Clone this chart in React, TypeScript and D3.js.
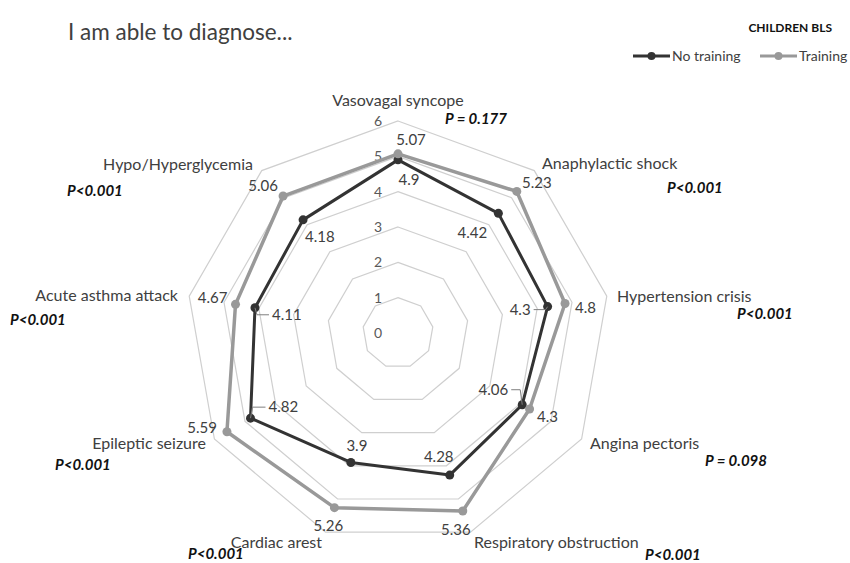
import React from "react";
import * as d3 from "d3";

const categories = [
  "Vasovagal syncope",
  "Anaphylactic shock",
  "Hypertension crisis",
  "Angina pectoris",
  "Respiratory obstruction",
  "Cardiac arest",
  "Epileptic seizure",
  "Acute asthma attack",
  "Hypo/Hyperglycemia",
];
const pValues = ["P = 0.177", "P<0.001", "P<0.001", "P = 0.098", "P<0.001", "P<0.001", "P<0.001", "P<0.001", "P<0.001"];
const noTraining = [4.9, 4.42, 4.3, 4.06, 4.28, 3.9, 4.82, 4.11, 4.18];
const training = [5.07, 5.23, 4.8, 4.3, 5.36, 5.26, 5.59, 4.67, 5.06];
const ticks = [0, 1, 2, 3, 4, 5, 6];
const seriesNames = ["No training", "Training"];

// layout (not data)
const W = 850, H = 563;
const cx = 398, cy = 333, R = 212;
const colors = ["#333333", "#999999"];
const font = "Lato, 'Open Sans', sans-serif";

// category label placement: [x, y, anchor], p-value placement [x, y, anchor]
const catPos: [number, number, string][] = [
  [398, 106, "middle"], [542, 169, "start"], [617, 302, "start"], [590, 449, "start"],
  [474, 548, "start"], [322, 548, "end"], [206, 449, "end"], [178, 301, "end"], [253, 170, "end"],
];
const pPos: [number, number, string][] = [
  [445, 124, "start"], [667, 193, "start"], [737, 319, "start"], [705, 466, "start"],
  [645, 560, "start"], [188, 559, "start"], [55, 470, "start"], [10, 325, "start"], [67, 196, "start"],
];
// value label offsets relative to the marker (to text centre): [dx, dy, anchor, leader]
const ntOff: [number, number, string, boolean][] = [
  [11, 20, "middle", false], [-26, 20, "middle", false], [-17, 3, "end", true], [-14, -15, "end", true],
  [-11, -18, "middle", false], [6, -16, "middle", false], [18, -11, "start", true], [17, 7, "start", true], [2, 17, "start", false],
];
const tOff: [number, number, string, boolean][] = [
  [13, -14, "middle", false], [20, -8, "middle", false], [10, 4, "start", false], [18, 8, "middle", false],
  [-7, 19, "middle", false], [-6, 18, "middle", false], [-10, -4, "end", false], [-8, -6, "end", false], [-20, -10, "middle", false],
];

export default function App() {
  const n = categories.length;
  const r = d3.scaleLinear().domain([0, 6]).range([0, R]);
  const angle = (i: number) => (i * 2 * Math.PI) / n;
  const pt = (i: number, v: number): [number, number] => [
    cx + r(v) * Math.sin(angle(i)),
    cy - r(v) * Math.cos(angle(i)),
  ];
  const ringLine = d3.line<[number, number]>().curve(d3.curveLinearClosed);
  const series = [noTraining, training];
  const offs = [ntOff, tOff];

  return (
    <svg width={W} height={H} style={{ position: "absolute", left: 0, top: 0, background: "#fff" }} fontFamily={font}>
      <text x={68} y={40} fontSize={22.5} fill="#404040">I am able to diagnose...</text>
      <text x={832} y={32} fontSize={12} fontWeight="bold" textAnchor="end" fill="#111">CHILDREN BLS</text>
      {/* legend */}
      {[0, 1].map((s) => {
        const x0 = s === 0 ? 633 : 760;
        return (
          <g key={s}>
            <line x1={x0} x2={x0 + 37} y1={56} y2={56} stroke={colors[s]} strokeWidth={3} />
            <circle cx={x0 + 18.5} cy={56} r={4} fill={colors[s]} />
            <text x={x0 + 39} y={61} fontSize={14} fill="#404040">{seriesNames[s]}</text>
          </g>
        );
      })}
      {/* grid rings */}
      {ticks.slice(1).map((t) => (
        <path key={t} d={ringLine(d3.range(n).map((i) => pt(i, t))) || ""} fill="none" stroke="#cfcfcf" strokeWidth={1.2} />
      ))}
      {ticks.map((t) => (
        <text key={"t" + t} x={382} y={cy - r(t) + 5} fontSize={14} textAnchor="end" fill="#595959">{t}</text>
      ))}
      {/* series */}
      {series.map((vals, s) => (
        <g key={"s" + s}>
          <path d={ringLine(vals.map((v, i) => pt(i, v))) || ""} fill="none" stroke={colors[s]} strokeWidth={s === 0 ? 3 : 3.5} strokeLinejoin="round" />
          {vals.map((v, i) => {
            const [x, y] = pt(i, v);
            return <circle key={i} cx={x} cy={y} r={4.5} fill={colors[s]} />;
          })}
        </g>
      ))}
      {/* value labels */}
      {series.map((vals, s) =>
        vals.map((v, i) => {
          const [x, y] = pt(i, v);
          const [dx, dy, anchor, leader] = offs[s][i];
          const tx = x + dx, ty = y + dy;
          const isEnd = anchor === "end";
          return (
            <g key={`l${s}-${i}`}>
              {leader && (
                <polyline
                  points={`${isEnd ? tx + 3 : tx - 3},${ty} ${isEnd ? x - 2 : x + 2},${ty} ${x},${y}`}
                  fill="none" stroke="#7f7f7f" strokeWidth={1}
                />
              )}
              <text x={tx} y={ty + 5} fontSize={15} textAnchor={anchor} fill="#404040">{v}</text>
            </g>
          );
        })
      )}
      {/* category labels */}
      {categories.map((c, i) => (
        <text key={"c" + i} x={catPos[i][0]} y={catPos[i][1]} fontSize={16} textAnchor={catPos[i][2]} fill="#404040">{c}</text>
      ))}
      {pValues.map((p, i) => (
        <text key={"p" + i} x={pPos[i][0]} y={pPos[i][1]} fontSize={15} fontWeight="bold" fontStyle="italic" textAnchor={pPos[i][2]} fill="#111">{p}</text>
      ))}
    </svg>
  );
}
